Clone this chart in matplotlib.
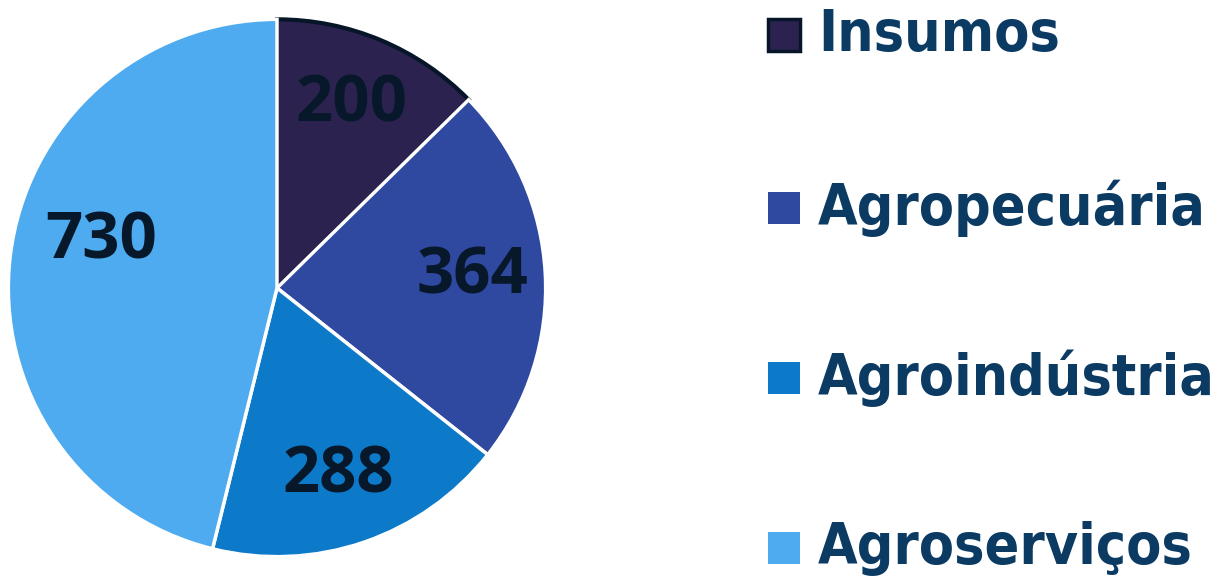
import matplotlib
matplotlib.use("Agg")
import matplotlib.pyplot as plt
from matplotlib.patches import Rectangle

categories = ["Insumos", "Agropecuária", "Agroindústria", "Agroserviços"]
values = [200, 364, 288, 730]
colors = ["#2c2250", "#2f48a0", "#0d79c9", "#4eabf0"]

W, H = 1220, 580
fig = plt.figure(figsize=(W / 100, H / 100), dpi=100)
R = 270
cx, cy = 277, 288
ax = fig.add_axes([(cx - R) / W, (H - cy - R) / H, 2 * R / W, 2 * R / H])

wedges, texts, autotexts = ax.pie(
    values, colors=colors, startangle=90, counterclock=False,
    radius=1.0, autopct=lambda p: "", pctdistance=0.74,
    wedgeprops=dict(edgecolor="white", linewidth=2.5),
)
wedges[0].set_edgecolor("#061628")
wedges[0].set_linewidth(3)
wedges[0].set_zorder(0.5)
for w in wedges[1:]:
    w.set_zorder(1)

label_offsets = [(-0.01, 0), (-0.01, 0), (-0.01, 0), (0.08, 0.08)]
for t, v, off in zip(autotexts, values, label_offsets):
    x, y = t.get_position()
    t.set_position((x + off[0], y + off[1]))
    t.set_text(str(v))
    t.set_fontsize(47)
    t.set_fontweight("bold")
    t.set_family("Open Sans")
    t.set_color("#08182b")
    t.set_zorder(5)

ax.set_xlim(-1.005, 1.005)
ax.set_ylim(-1.005, 1.005)
ax.set_aspect("equal")
ax.axis("off")

rows_y = [35, 208, 378, 548]
for cat, col, yy in zip(categories, colors, rows_y):
    s = 32
    ec = "#061628" if cat == "Insumos" else col
    fig.patches.append(Rectangle((768 / W, (H - yy - s / 2) / H), s / W, s / H,
                                 transform=fig.transFigure, facecolor=col,
                                 edgecolor=ec, linewidth=2.5 if cat == "Insumos" else 0))
    fig.text(818 / W, (H - yy) / H, cat, fontsize=41, fontweight="bold",
             family="DejaVu Sans", fontstretch="condensed",
             color="#0b3a63", va="center", ha="left")

fig.savefig("out.png", dpi=100)
